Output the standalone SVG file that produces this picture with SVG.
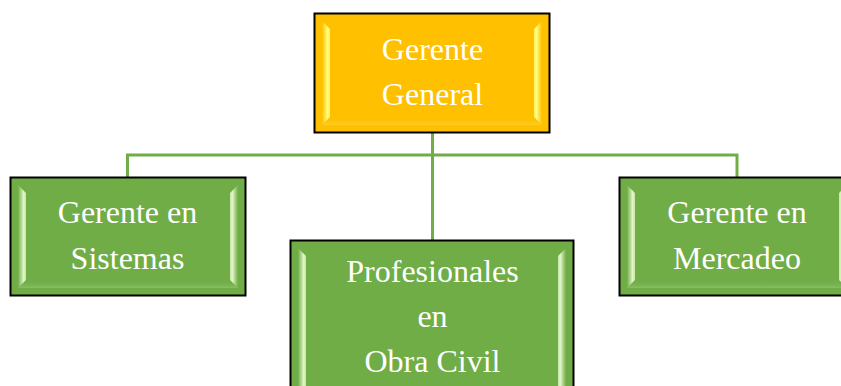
<svg xmlns="http://www.w3.org/2000/svg" width="841" height="386" viewBox="0 0 841 386">
<defs>
<linearGradient id="oL" x1="0" y1="0" x2="1" y2="0"><stop offset="0" stop-color="#FFC000"/><stop offset="0.7" stop-color="#FFFF80"/><stop offset="1" stop-color="#FFF060"/></linearGradient>
<linearGradient id="oR" x1="1" y1="0" x2="0" y2="0"><stop offset="0" stop-color="#FFC000"/><stop offset="0.7" stop-color="#FFFF80"/><stop offset="1" stop-color="#FFF060"/></linearGradient>
<linearGradient id="gL" x1="0" y1="0" x2="1" y2="0"><stop offset="0" stop-color="#70AD47"/><stop offset="0.7" stop-color="#E2F5C8"/><stop offset="1" stop-color="#C8E8A8"/></linearGradient>
<linearGradient id="gR" x1="1" y1="0" x2="0" y2="0"><stop offset="0" stop-color="#70AD47"/><stop offset="0.7" stop-color="#E2F5C8"/><stop offset="1" stop-color="#C8E8A8"/></linearGradient>
<linearGradient id="gB" x1="0" y1="0" x2="0" y2="1"><stop offset="0" stop-color="#70AD47" stop-opacity="0"/><stop offset="1" stop-color="#A8D888"/></linearGradient>
<linearGradient id="oB" x1="0" y1="0" x2="0" y2="1"><stop offset="0" stop-color="#FFC000" stop-opacity="0"/><stop offset="1" stop-color="#FFE060"/></linearGradient>
</defs>
<style>
.box{stroke:#000;stroke-width:2}
.org{fill:#FFC000}
.grn{fill:#70AD47}
.t{font-family:"Liberation Serif","Times New Roman",serif;font-size:32px;fill:#fff;text-anchor:middle}
.conn{stroke:#70AD47;stroke-width:3;fill:none}
</style>
<g id="connectors">
<path class="conn" d="M432.5 132 V240 M127.5 177 V155 H737 V177"/>
</g>
<g id="gerente-general">
<rect class="box org" x="314.5" y="13.5" width="235" height="119"/>
<polygon points="322,21 330,29 330,117 322,125" fill="url(#oL)"/>
<polygon points="542,21 534,29 534,117 542,125" fill="url(#oR)"/>
<polygon points="322,125 330,117 534,117 542,125" fill="url(#oB)" opacity="0.4"/>
<text class="t" x="432.5" y="60">Gerente</text>
<text class="t" x="432.5" y="105">General</text>
</g>
<g id="gerente-sistemas">
<rect class="box grn" x="10.5" y="177.5" width="235" height="118"/>
<polygon points="18,185 26,193 26,280 18,288" fill="url(#gL)"/>
<polygon points="238,185 230,193 230,280 238,288" fill="url(#gR)"/>
<polygon points="18,288 26,280 230,280 238,288" fill="url(#gB)" opacity="0.4"/>
<text class="t" x="127.5" y="223">Gerente en</text>
<text class="t" x="127.5" y="269">Sistemas</text>
</g>
<g id="profesionales">
<rect class="box grn" x="290.5" y="240.5" width="283" height="150"/>
<polygon points="298,248 306,256 306,386 298,386" fill="url(#gL)"/>
<polygon points="566,248 558,256 558,386 566,386" fill="url(#gR)"/>
<text class="t" x="432.5" y="282">Profesionales</text>
<text class="t" x="432.5" y="327">en</text>
<text class="t" x="432.5" y="372">Obra Civil</text>
</g>
<g id="gerente-mercadeo">
<rect class="box grn" x="619.5" y="177.5" width="235" height="118"/>
<polygon points="627,185 635,193 635,280 627,288" fill="url(#gL)"/>
<polygon points="847,185 839,193 839,280 847,288" fill="url(#gR)"/>
<polygon points="627,288 635,280 839,280 847,288" fill="url(#gB)" opacity="0.4"/>
<text class="t" x="737" y="223">Gerente en</text>
<text class="t" x="737" y="269">Mercadeo</text>
</g>
</svg>
